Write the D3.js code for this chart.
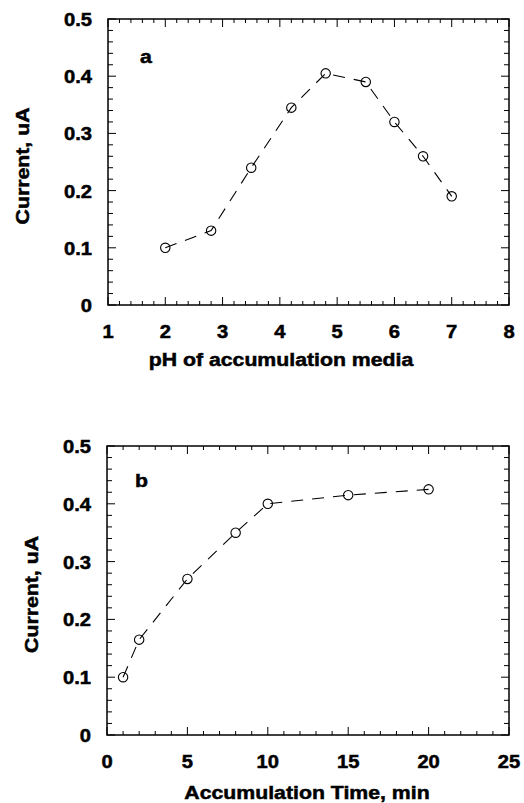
<!DOCTYPE html>
<html>
<head>
<meta charset="utf-8">
<script src="https://cdn.jsdelivr.net/npm/d3@7"></script>
<style>
  body { margin: 0; background: #fff; }
  text { font-family: "Liberation Sans", Arial, sans-serif; font-weight: bold; fill: #000; stroke: #000; stroke-width: 0.5px; }
</style>
</head>
<body>
<svg id="chart" width="524" height="803"></svg>
<script>
// panel a: current vs pH
const phValues = [2, 2.8, 3.5, 4.2, 4.8, 5.5, 6, 6.5, 7];
const phCurrent = [0.1, 0.13, 0.24, 0.345, 0.405, 0.39, 0.32, 0.26, 0.19];
// panel b: current vs accumulation time
const timeValues = [1, 2, 5, 8, 10, 15, 20];
const timeCurrent = [0.1, 0.165, 0.27, 0.35, 0.4, 0.415, 0.425];

const phTicks = [1, 2, 3, 4, 5, 6, 7, 8];
const timeTicks = [0, 5, 10, 15, 20, 25];
const currentTicks = [0, 0.1, 0.2, 0.3, 0.4, 0.5];
const currentLabels = ["0", "0.1", "0.2", "0.3", "0.4", "0.5"];

const svg = d3.select("#chart");

function label(g, txt, x, y, size, anchor, rotate) {
  g.append("text")
    .attr("transform", "translate(" + x + "," + y + ")" + (rotate ? " rotate(-90)" : "") + " scale(1.12,1)")
    .attr("text-anchor", anchor)
    .style("font-size", size + "px")
    .text(txt);
}

function drawPanel(cfg) {
  const g = svg.append("g");
  const x = d3.scaleLinear().domain(cfg.xDomain).range([cfg.left, cfg.right]);
  const y = d3.scaleLinear().domain([0, 0.5]).range([cfg.bottom, cfg.top]);

  const isMajor = (v, list) => list.some((t) => Math.abs(t - v) < 1e-6);

  // inward ticks on all four sides
  cfg.xMinor.forEach((v) => {
    const len = isMajor(v, cfg.xTicks) ? 8 : 4;
    g.append("line").attr("x1", x(v)).attr("x2", x(v))
      .attr("y1", cfg.bottom).attr("y2", cfg.bottom - len)
      .attr("stroke", "#000").attr("stroke-width", 1);
    g.append("line").attr("x1", x(v)).attr("x2", x(v))
      .attr("y1", cfg.top).attr("y2", cfg.top + len)
      .attr("stroke", "#000").attr("stroke-width", 1);
  });
  d3.range(0, 0.5001, 0.02).forEach((v) => {
    const len = isMajor(v, currentTicks) ? 8 : 5;
    g.append("line").attr("x1", cfg.left).attr("x2", cfg.left + len)
      .attr("y1", y(v)).attr("y2", y(v))
      .attr("stroke", "#000").attr("stroke-width", 1);
    g.append("line").attr("x1", cfg.right).attr("x2", cfg.right - len)
      .attr("y1", y(v)).attr("y2", y(v))
      .attr("stroke", "#000").attr("stroke-width", 1);
  });

  g.append("rect")
    .attr("x", cfg.left).attr("y", cfg.top)
    .attr("width", cfg.right - cfg.left).attr("height", cfg.bottom - cfg.top)
    .attr("fill", "none").attr("stroke", "#000").attr("stroke-width", 1.5);

  // tick labels
  cfg.xTicks.forEach((v) => label(g, v, x(v), cfg.bottom + 33, 18, "middle"));
  currentTicks.forEach((v, i) => label(g, currentLabels[i], cfg.left - 16, y(v) + 7, 18, "end"));

  // titles
  label(g, cfg.xTitle, cfg.titleX, cfg.titleY, 19, "middle");
  label(g, "Current, uA", cfg.yTitleX, (cfg.top + cfg.bottom) / 2 + 4, 19, "middle", true);
  label(g, cfg.letter, cfg.letterX, cfg.letterY, 19, "start");

  // data
  const pts = cfg.xs.map((v, i) => [v, cfg.ys[i]]);
  g.append("path")
    .datum(pts)
    .attr("fill", "none")
    .attr("stroke", "#000")
    .attr("stroke-width", 1.1)
    .attr("stroke-dasharray", "12,9")
    .attr("d", d3.line().x((d) => x(d[0])).y((d) => y(d[1])));
  g.selectAll("circle")
    .data(pts)
    .join("circle")
    .attr("cx", (d) => x(d[0]))
    .attr("cy", (d) => y(d[1]))
    .attr("r", 4.7)
    .attr("fill", "none")
    .attr("stroke", "#000")
    .attr("stroke-width", 1.1);
}

drawPanel({
  left: 108, right: 509, top: 19, bottom: 305,
  xDomain: [1, 8], xTicks: phTicks, xMinor: d3.range(1, 8.001, 0.2),
  xs: phValues, ys: phCurrent,
  xTitle: "pH of accumulation media", titleX: 281, titleY: 366,
  yTitleX: 29, letter: "a", letterX: 140, letterY: 63
});

drawPanel({
  left: 107, right: 509, top: 446, bottom: 735,
  xDomain: [0, 25], xTicks: timeTicks, xMinor: d3.range(0, 25.001, 1),
  xs: timeValues, ys: timeCurrent,
  xTitle: "Accumulation Time, min", titleX: 307, titleY: 799,
  yTitleX: 38, letter: "b", letterX: 135, letterY: 487
});
</script>
</body>
</html>
